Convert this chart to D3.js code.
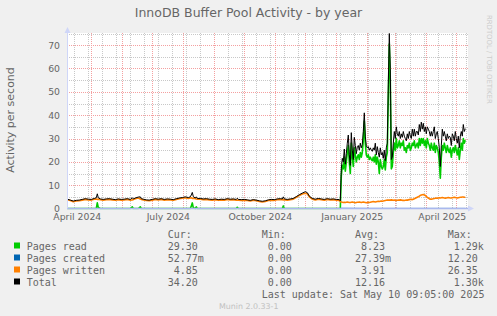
<!DOCTYPE html>
<meta charset="UTF-8">
<script src="https://cdn.jsdelivr.net/npm/d3@7"></script>
<style>
 body { margin:0; background:#f0f0f0; }
 svg text { font-family:"DejaVu Sans", sans-serif; fill:#666; }
 svg .mono { font-family:"DejaVu Sans Mono", monospace; font-size:10px; white-space:pre; }
</style>
<svg id="chart" width="497" height="316"></svg>
<script>
 // days are counted from 7 April 2024
 var seriesStart = Date.UTC(2024, 3, 7);

 var days = [
   0,3,6,9,12,15,18,21,24,27,
   29,30,31,33,36,39,42,45,48,51,
   54,57,60,63,65,66,68,71,73,74,
   76,79,82,85,88,91,94,97,100,103,
   106,109,112,115,118,121,123,124,125,126,
   128,129,130,133,136,139,142,145,148,151,
   154,157,160,163,166,169,170,171,174,177,
   180,183,186,189,192,195,198,201,204,207,
   210,213,215,216,217,220,223,226,229,232,
   235,238,240,242,245,248,251,254,257,260,
   263,266,269,272,273,
   274,275,276,277,278,279,280,281,282,283,
   284,285,286,287,288,289,290,291,292,293,
   294,295,296,297,298,299,300,301,302,303,
   304,305,306,307,308,309,310,311,312,313,
   314,315,316,317,318,319,320,321,322,323,
   324,325,326,327,328,329,330,331,332,333,
   334,335,336,337,338,339,340,341,342,343,
   344,345,346,347,348,349,350,351,352,353,
   354,355,356,357,358,359,360,361,362,363,
   364,365,366,367,368,369,370,371,372,373,
   374,375,376,377,378,379,380,381,382,383,
   384,385,386,387,388,389,390,391,392,393,
   394,395,396,397,398
 ];

 var pagesRead = [
   0,0,0,0,0,0,0,0,0,0,
   0,2.4,0.4,0,0,0,0,0,0,0,
   0,0,0,0,0.7,0,0,0,0.7,0,
   0,0,0,0,0,0,0,0,0,0,
   0,0,0,0,0,0,0,1.0,2.4,0.3,
   0,0.7,0,0,0,0,0,0,0,0,
   0,0,0,0,0,0,0.5,0,0,0,
   0,0,0,0,0,0,0,0,0,0,
   0,0,0,1.1,0,0,0,0,0,0,
   0,0,0,0,0,0,0,0,0,0,
   0,0,0,0,0,
   14,18.5,17,22,16,20,24,27,20,15,
   28,22,18,26,23,20,22,23,21,24,
   22,24,29,37.5,28,23,22,23,21,22,
   21,20.5,22,20,23,19,22,20,15,21,
   18,17,18,21,16.5,22,24,48,70.5,55,
   17,18,24,28,25,30,26,27,29,26,
   28,27,29,25,26,24,27,26,28,25,
   26,28,27,29,26,27,28,26,30,27,
   30,28,30,27,29,26,30,28,27,25,
   28,26,25,28,24,27,26,24,20,13,
   22,27,25,28,26,24,27,25,24,26,
   22,25,26,24,27,25,23,26,21,25,
   28,25,30,28,29.3
 ];

 var pagesWritten = [
   3.8,3.4,2.9,3.2,3.3,3.6,3.9,3.7,3.6,4.0,
   4.1,3.9,4.0,3.8,3.6,3.8,3.9,3.7,3.5,3.8,
   3.6,3.7,3.9,3.6,3.7,3.8,4.2,4.5,4.1,3.9,
   3.7,3.4,3.3,3.6,3.9,3.7,3.9,3.6,3.8,3.7,
   3.5,3.9,4.2,4.4,4.6,4.3,4.5,4.6,4.3,4.4,
   4.2,4.1,4.0,4.0,3.8,3.9,3.7,3.6,3.8,3.5,
   3.7,3.6,3.9,3.7,3.8,3.6,3.6,3.6,3.5,3.6,
   3.4,3.2,3.5,3.3,3.0,2.8,3.0,3.4,3.6,3.5,
   3.8,3.9,3.8,3.7,3.8,3.6,3.8,4.0,4.8,5.6,
   6.2,6.5,6.3,5.0,4.0,3.7,4.0,3.8,3.6,3.9,
   3.7,3.8,3.6,3.5,3.0,
   2.8,2.7,2.6,2.7,2.6,2.7,2.8,2.7,2.6,2.6,
   2.7,2.8,2.7,2.6,2.5,2.6,2.7,2.7,2.8,2.7,
   2.6,2.7,2.8,2.7,2.6,2.5,2.6,2.7,2.6,2.7,
   2.8,2.9,3.0,2.9,2.8,2.9,3.0,3.1,3.0,3.1,
   3.2,3.1,3.2,3.3,3.4,3.5,3.6,3.6,3.6,3.6,
   3.7,3.6,3.5,3.6,3.5,3.4,3.5,3.6,3.6,3.7,
   3.6,3.5,3.5,3.4,3.5,3.6,3.6,3.7,3.8,3.9,
   3.9,3.8,4.0,4.2,4.4,4.6,4.8,5.0,5.3,5.6,
   5.8,5.9,6.0,5.8,5.6,5.2,4.8,4.5,4.2,4.0,
   4.0,4.1,4.2,4.3,4.4,4.5,4.4,4.5,4.6,4.5,
   4.6,4.7,4.6,4.5,4.4,4.5,4.6,4.7,4.6,4.5,
   4.5,4.6,4.7,4.8,4.7,4.6,4.5,4.6,4.7,4.8,
   4.8,4.9,4.9,4.8,4.85
 ];

 var total = [
   4.0,3.6,3.2,3.5,3.6,3.9,4.2,4.0,3.9,4.3,
   4.6,6.3,4.6,4.1,3.9,4.1,4.2,4.0,3.8,4.1,
   3.9,4.0,4.2,3.9,4.6,4.1,4.5,4.9,5.0,4.2,
   4.0,3.7,3.6,3.9,4.2,4.0,4.2,3.9,4.1,4.0,
   3.8,4.2,4.5,4.7,5.0,4.7,5.0,5.8,6.9,5.1,
   4.5,5.0,4.3,4.3,4.1,4.2,4.0,3.9,4.1,3.8,
   4.0,3.9,4.2,4.0,4.1,3.9,4.4,3.9,3.8,3.9,
   3.7,3.5,3.8,3.6,3.3,3.1,3.3,3.7,3.9,3.8,
   4.1,4.2,4.1,5.0,4.1,3.9,4.1,4.3,5.1,5.9,
   6.6,7.2,6.8,5.3,4.3,4.0,4.3,4.1,3.9,4.2,
   4.0,4.1,3.9,3.8,3.3,
   17,21.5,20,25.5,19,23.5,28,31.5,23,18.5,
   32.5,25,21,30.5,27,23.5,26.5,27,25,28,
   26,27.5,33,41,31,27,26,26.5,25,26,
   25,24.5,26,25,28,23,26.5,24,22,26,
   23,24,21.5,25,20.5,26,28,53,75,60,
   21,22,28,33,30,35,32,31,33,30,
   32,30.5,33,31,30,29,32,30,33,31,
   30,34,31,34,31,33,33,31.5,36,33,
   37,34,36.5,33,35,32,35,34,33,31,
   33,31,33,35,30,32,33,30,26,18,
   27,34,31,33,31,29,32,30,31,30.5,
   27,32,31,29,33,30,28,31,26,31,
   33,31,36,33,34.2
 ];

 var createdDays = [0, 120, 273, 274, 300, 398];
 var pagesCreated = [0, 0, 0, 0.1, 0.05, 0.05];

 var yTicks = [0, 10, 20, 30, 40, 50, 60, 70];
 var yMinor = [5, 15, 25, 35, 45, 55, 65, 75];
 var xLabelMonths = ["2024-04-01", "2024-07-01", "2024-10-01", "2025-01-01", "2025-04-01"];

 var legendNames = ["Pages read", "Pages created", "Pages written", "Total"];
 var legendColors = ["#00cc00", "#0066b3", "#ff8000", "#000000"];
 var curValues = ["29.30", "52.77m", " 4.85", "34.20"];
 var minValues = [" 0.00", " 0.00", " 0.00", " 0.00"];
 var avgValues = [" 8.23", "27.39m", " 3.91", "12.16"];
 var maxValues = [" 1.29k", "12.20", "26.35", " 1.30k"];

 var svg = d3.select("#chart");
 var plotLeft = 67, plotRight = 468, plotTop = 33, plotBottom = 208.5;

 var x = d3.scaleUtc()
     .domain([new Date(Date.UTC(2024, 4, 1)), new Date(Date.UTC(2025, 4, 1))])
     .range([91.3, 456.3]);
 var y = d3.scaleLinear().domain([0, 75]).range([plotBottom, 33.5]);
 function dayDate(d) { return new Date(seriesStart + d * 864e5); }
 function px(v) { return Math.round(v) + 0.5; }

 // canvas
 svg.append("rect").attr("x", plotLeft).attr("y", plotTop)
     .attr("width", plotRight - plotLeft).attr("height", plotBottom - plotTop).attr("fill", "#fff");

 // grid
 var grid = svg.append("g").attr("stroke-dasharray", "1,1").attr("stroke-width", 1);
 var firstMinor = new Date(Date.UTC(2024, 3, 14));
 var minorDates = d3.range(0, 30).map(function (k) { return d3.utcDay.offset(firstMinor, 14 * k); })
     .filter(function (d) { return x(d) < plotRight; });
 grid.selectAll(".vmin").data(minorDates).enter().append("line")
     .attr("x1", function (d) { return px(x(d)); }).attr("x2", function (d) { return px(x(d)); })
     .attr("y1", plotTop).attr("y2", plotBottom).attr("stroke", "#c8c8c8");
 grid.selectAll(".hmin").data(yMinor).enter().append("line")
     .attr("x1", plotLeft).attr("x2", plotRight)
     .attr("y1", function (d) { return px(y(d)); }).attr("y2", function (d) { return px(y(d)); })
     .attr("stroke", "#c8c8c8");
 var months = d3.utcMonth.range(new Date(Date.UTC(2024, 4, 1)), new Date(Date.UTC(2025, 4, 2)));
 grid.selectAll(".vmaj").data(months).enter().append("line")
     .attr("x1", function (d) { return px(x(d)); }).attr("x2", function (d) { return px(x(d)); })
     .attr("y1", plotTop).attr("y2", plotBottom).attr("stroke", "#f4a0a0");
 grid.selectAll(".hmaj").data(yTicks.slice(1)).enter().append("line")
     .attr("x1", plotLeft).attr("x2", plotRight)
     .attr("y1", function (d) { return px(y(d)); }).attr("y2", function (d) { return px(y(d)); })
     .attr("stroke", "#f4a0a0");

 // lines
 svg.append("clipPath").attr("id", "clip").append("rect")
     .attr("x", plotLeft).attr("y", plotTop - 1)
     .attr("width", plotRight - plotLeft).attr("height", plotBottom - plotTop + 2);
 var plot = svg.append("g").attr("clip-path", "url(#clip)");
 function drawSeries(ds, vs, color, w) {
   var line = d3.line()
       .x(function (i) { return x(dayDate(ds[i])); })
       .y(function (i) { return y(vs[i]); });
   plot.append("path").attr("d", line(d3.range(ds.length)))
       .attr("fill", "none").attr("stroke", color).attr("stroke-width", w).attr("stroke-linejoin", "round");
 }
 drawSeries(days, pagesRead, legendColors[0], 1.6);
 drawSeries(createdDays, pagesCreated, legendColors[1], 1);
 drawSeries(days, pagesWritten, legendColors[2], 1.6);
 drawSeries(days, total, legendColors[3], 1);

 // axes
 svg.append("line").attr("x1", plotLeft).attr("x2", plotRight + 2).attr("y1", plotBottom).attr("y2", plotBottom)
     .attr("stroke", "#aab8ee").attr("stroke-width", 1.5);
 svg.append("line").attr("x1", plotLeft + 0.5).attr("x2", plotLeft + 0.5).attr("y1", plotBottom).attr("y2", 30)
     .attr("stroke", "#cfd6f8").attr("stroke-width", 1);
 svg.append("path").attr("d", "M468,205.5L474,208.5L468,211.5Z").attr("fill", "#cfd6f8");
 svg.append("path").attr("d", "M64.5,33L67.5,27L70.5,33Z").attr("fill", "#cfd6f8");

 // tick labels
 svg.selectAll(".ytl").data(yTicks).enter().append("text")
     .attr("x", 60).attr("y", function (d) { return y(d) + 3.4; })
     .attr("text-anchor", "end").attr("font-size", "9.3px").text(function (d) { return d; });
 var fmt = d3.utcFormat("%B %Y");
 svg.selectAll(".xtl").data(xLabelMonths).enter().append("text")
     .attr("x", function (d) { return x(d3.utcDay.offset(new Date(d), 16)); }).attr("y", 219.5)
     .attr("text-anchor", "middle").attr("font-size", "9.3px")
     .text(function (d) { return fmt(new Date(d)); });

 // titles
 svg.append("text").attr("x", 248.5).attr("y", 16.5).attr("text-anchor", "middle")
     .attr("font-size", "12.5px").text("InnoDB Buffer Pool Activity - by year");
 svg.append("text").attr("transform", "translate(13.5,120) rotate(-90)").attr("text-anchor", "middle")
     .attr("font-size", "11px").text("Activity per second");
 svg.append("text").attr("transform", "translate(486.5,15) rotate(90)")
     .attr("font-size", "6.9px").style("fill", "#cccccc").text("RRDTOOL / TOBI OETIKER");

 // legend
 var lg = svg.append("g");
 [["Cur:", 167.7], ["Min:", 261.7], ["Avg:", 355], ["Max:", 447.7]].forEach(function (h) {
   lg.append("text").attr("class", "mono").attr("x", h[1]).attr("y", 237.5).text(h[0]);
 });
 legendNames.forEach(function (name, i) {
   var by = 249.5 + 12 * i;
   lg.append("rect").attr("x", 14).attr("y", by - 7).attr("width", 6).attr("height", 6).attr("fill", legendColors[i]);
   lg.append("text").attr("class", "mono").attr("x", 26.7).attr("y", by).text(name);
   lg.append("text").attr("class", "mono").attr("x", 167.7).attr("y", by).attr("xml:space", "preserve").text(curValues[i]);
   lg.append("text").attr("class", "mono").attr("x", 261.7).attr("y", by).attr("xml:space", "preserve").text(minValues[i]);
   lg.append("text").attr("class", "mono").attr("x", 355).attr("y", by).attr("xml:space", "preserve").text(avgValues[i]);
   lg.append("text").attr("class", "mono").attr("x", 447.7).attr("y", by).attr("xml:space", "preserve").text(maxValues[i]);
 });
 lg.append("text").attr("class", "mono").attr("x", 261.7).attr("y", 297.5)
     .text("Last update: Sat May 10 09:05:00 2025");
 svg.append("text").attr("x", 248.7).attr("y", 308.5).attr("text-anchor", "middle")
     .attr("font-size", "7.9px").style("fill", "#c0c0c0").text("Munin 2.0.33-1");
</script>
